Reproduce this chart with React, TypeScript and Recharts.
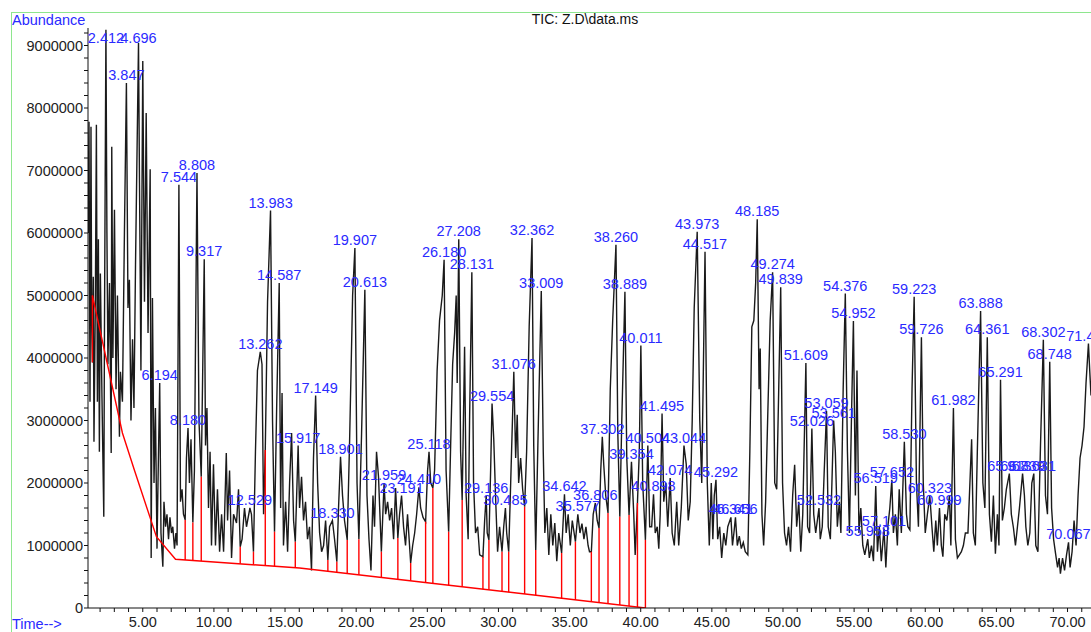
import { ComposedChart, Line, Scatter, XAxis, YAxis, ReferenceLine } from 'recharts'

// TIC trace: retention time (min) and abundance (millions of counts)
const traceTime = [
  1.15, 1.22, 1.29, 1.36, 1.41, 1.46, 1.52, 1.57, 1.67, 1.74, 1.81, 1.88, 1.95, 2.02, 2.13, 2.26, 2.31, 2.41, 2.48, 2.55,
  2.66, 2.78, 2.82, 2.9, 3.01, 3.12, 3.22, 3.36, 3.43, 3.57, 3.71, 3.85, 3.96, 4.06, 4.17, 4.28, 4.38, 4.49, 4.7, 4.77,
  4.87, 5.0, 5.12, 5.24, 5.37, 5.52, 5.59, 5.68, 5.79, 5.89, 6.0, 6.07, 6.19, 6.28, 6.41, 6.49, 6.6, 6.7, 6.81, 6.91,
  7.02, 7.11, 7.23, 7.33, 7.41, 7.54, 7.65, 7.76, 7.86, 7.98, 8.07, 8.18, 8.28, 8.39, 8.52, 8.63, 8.81, 8.95, 9.11, 9.32,
  9.41, 9.51, 9.62, 9.73, 9.83, 9.97, 10.11, 10.25, 10.4, 10.54, 10.68, 10.87, 10.96, 11.1, 11.24, 11.38, 11.59, 11.73, 11.85, 11.98,
  12.15, 12.29, 12.53, 12.64, 12.78, 12.92, 13.06, 13.26, 13.38, 13.49, 13.61, 13.77, 13.98, 14.12, 14.26, 14.41, 14.59, 14.69, 14.79, 14.89,
  15.04, 15.18, 15.32, 15.46, 15.6, 15.72, 15.92, 16.02, 16.16, 16.3, 16.44, 16.58, 16.72, 16.86, 17.0, 17.15, 17.29, 17.43, 17.57, 17.71,
  17.85, 18.01, 18.13, 18.33, 18.48, 18.64, 18.76, 18.9, 19.04, 19.18, 19.37, 19.54, 19.75, 19.91, 20.06, 20.19, 20.38, 20.61, 20.76, 20.9,
  21.04, 21.18, 21.29, 21.43, 21.57, 21.77, 21.96, 22.07, 22.21, 22.35, 22.49, 22.63, 22.77, 22.93, 23.05, 23.19, 23.33, 23.47, 23.61, 23.83,
  23.97, 24.11, 24.25, 24.41, 24.53, 24.7, 24.88, 25.02, 25.12, 25.24, 25.39, 25.51, 25.69, 25.86, 26.05, 26.18, 26.32, 26.5, 26.64, 26.78,
  26.92, 27.03, 27.1, 27.21, 27.34, 27.45, 27.62, 27.73, 27.87, 27.97, 28.13, 28.25, 28.39, 28.54, 28.68, 28.91, 29.03, 29.14, 29.21, 29.33,
  29.45, 29.55, 29.67, 29.81, 29.94, 30.08, 30.25, 30.37, 30.49, 30.58, 30.72, 30.86, 31.08, 31.21, 31.32, 31.42, 31.56, 31.7, 31.84, 31.98,
  32.16, 32.36, 32.48, 32.62, 32.77, 33.01, 33.15, 33.26, 33.4, 33.54, 33.68, 33.82, 33.96, 34.1, 34.24, 34.44, 34.64, 34.76, 34.9, 35.05,
  35.19, 35.41, 35.58, 35.73, 35.87, 36.01, 36.15, 36.3, 36.4, 36.53, 36.66, 36.81, 36.94, 37.07, 37.19, 37.3, 37.4, 37.54, 37.7, 37.86,
  38.03, 38.26, 38.39, 38.53, 38.67, 38.89, 39.02, 39.18, 39.35, 39.51, 39.61, 39.77, 39.9, 40.01, 40.14, 40.33, 40.5, 40.63, 40.77, 40.9,
  41.02, 41.16, 41.27, 41.37, 41.5, 41.62, 41.76, 41.9, 42.07, 42.21, 42.36, 42.53, 42.67, 42.85, 43.04, 43.2, 43.34, 43.48, 43.62, 43.76,
  43.97, 44.15, 44.29, 44.52, 44.68, 44.82, 44.96, 45.07, 45.17, 45.29, 45.41, 45.55, 45.69, 45.84, 45.98, 46.12, 46.34, 46.45, 46.55, 46.66,
  46.79, 46.93, 47.07, 47.21, 47.35, 47.53, 47.67, 47.81, 47.95, 48.08, 48.19, 48.32, 48.4, 48.52, 48.64, 48.78, 48.92, 49.1, 49.27, 49.42,
  49.56, 49.7, 49.84, 49.97, 50.11, 50.25, 50.39, 50.53, 50.68, 50.82, 50.96, 51.11, 51.25, 51.39, 51.61, 51.73, 51.87, 52.03, 52.16, 52.3,
  52.53, 52.62, 52.76, 52.9, 53.06, 53.18, 53.33, 53.56, 53.68, 53.82, 53.96, 54.07, 54.23, 54.38, 54.53, 54.67, 54.81, 54.95, 55.09, 55.2,
  55.34, 55.47, 55.61, 55.75, 55.96, 56.07, 56.22, 56.36, 56.52, 56.64, 56.77, 56.91, 57.1, 57.23, 57.37, 57.51, 57.65, 57.76, 57.9, 58.04,
  58.17, 58.32, 58.53, 58.68, 58.78, 58.92, 59.07, 59.22, 59.38, 59.52, 59.73, 59.86, 60.0, 60.15, 60.32, 60.47, 60.6, 60.74, 60.85, 61.0,
  61.13, 61.24, 61.37, 61.52, 61.7, 61.8, 61.98, 62.12, 62.26, 62.4, 62.54, 62.68, 62.82, 63.0, 63.26, 63.38, 63.52, 63.66, 63.89, 64.05,
  64.19, 64.36, 64.51, 64.65, 64.79, 64.93, 65.07, 65.18, 65.29, 65.42, 65.56, 65.7, 65.91, 66.05, 66.2, 66.34, 66.48, 66.62, 66.84, 66.97,
  67.07, 67.21, 67.35, 67.49, 67.63, 67.77, 67.92, 68.1, 68.3, 68.45, 68.59, 68.75, 68.88, 69.02, 69.16, 69.3, 69.41, 69.5, 69.65, 69.79,
  69.93, 70.07, 70.18, 70.32, 70.46, 70.6, 70.74, 70.88, 71.02, 71.16, 71.3, 71.47, 71.56, 71.65,
]
const traceAbund = [
  6.0, 7.78, 3.3, 7.7, 4.5, 3.93, 5.3, 2.66, 5.0, 7.73, 3.3, 5.9, 2.5, 5.35, 3.4, 1.46, 4.6, 9.25, 6.0, 3.9,
  5.2, 2.48, 7.38, 4.0, 6.37, 3.5, 5.0, 2.74, 3.78, 3.3, 6.0, 8.4, 4.8, 5.25, 3.0, 4.3, 3.2, 5.5, 9.04, 6.8,
  3.8, 8.75, 4.9, 7.92, 4.4, 7.02, 0.8, 4.96, 2.0, 3.2, 0.95, 2.0, 3.6, 1.2, 0.66, 1.7, 1.3, 1.5, 1.1, 1.45,
  1.2, 1.3, 0.95, 1.2, 1.0, 6.77, 1.7, 1.9, 1.5, 1.41, 2.4, 2.88, 2.0, 2.7, 1.37, 2.2, 6.96, 3.0, 2.1, 5.58,
  2.6, 3.2, 1.6, 2.5, 1.0, 2.3, 1.0, 1.9, 0.9, 1.5, 0.9, 2.48, 1.4, 2.2, 0.8, 1.5, 1.36, 1.9, 0.98, 1.1,
  1.6, 1.3, 1.6, 1.5, 0.9, 2.5, 3.8, 4.1, 3.9, 1.5, 2.53, 4.9, 6.36, 3.0, 1.22, 3.2, 5.2, 1.6, 3.44, 1.0,
  1.7, 0.9, 2.0, 2.8, 1.4, 1.06, 2.6, 1.6, 2.1, 1.4, 1.7, 1.1, 1.3, 0.6, 2.4, 3.4, 2.0, 1.2, 0.9, 1.0,
  1.4, 0.77, 1.3, 1.4, 1.1, 0.74, 1.6, 2.42, 1.8, 1.4, 1.09, 2.7, 5.0, 5.76, 2.0, 1.1, 2.8, 5.09, 1.8, 1.1,
  0.6, 1.8, 1.3, 2.5, 2.1, 0.9, 2.0, 1.5, 1.7, 1.4, 1.6, 1.1, 1.92, 1.12, 1.5, 1.8, 1.3, 1.0, 1.5, 0.72,
  1.0, 1.2, 1.5, 1.93, 1.6, 1.45, 1.38, 2.2, 2.5, 2.0, 1.92, 2.2, 3.8, 4.6, 5.0, 5.57, 2.2, 1.22, 2.6, 3.9,
  4.4, 5.0, 3.6, 5.9, 2.5, 1.73, 4.18, 1.8, 1.1, 3.0, 5.37, 2.0, 1.2, 1.3, 0.85, 0.82, 1.4, 1.8, 1.2, 1.09,
  2.2, 3.27, 2.7, 1.7, 0.9, 1.3, 0.9, 1.3, 1.6, 1.2, 0.9, 2.0, 3.78, 2.4, 3.09, 2.0, 2.4, 1.9, 1.62, 2.5,
  4.5, 5.92, 2.6, 0.93, 2.6, 5.07, 2.5, 1.2, 1.6, 0.85, 1.5, 1.0, 1.36, 0.75, 1.2, 0.88, 1.82, 1.2, 1.5, 1.0,
  1.4, 1.06, 1.5, 1.2, 1.35, 1.1, 1.3, 1.0, 0.9, 0.9, 1.5, 1.68, 1.4, 1.28, 2.2, 2.74, 2.3, 1.8, 1.52, 3.5,
  4.6, 5.81, 2.8, 1.46, 3.0, 5.06, 2.4, 1.49, 2.34, 1.5, 0.85, 1.68, 2.5, 4.2, 2.0, 1.09, 2.6, 1.3, 1.3, 1.82,
  1.2, 1.3, 0.95, 1.5, 3.11, 1.7, 2.0, 1.3, 2.08, 1.2, 1.0, 1.7, 1.0, 1.6, 2.6, 2.3, 1.4, 1.7, 3.0, 4.8,
  6.02, 3.0, 2.0, 5.7, 2.0, 1.0, 2.0, 1.1, 1.8, 2.05, 1.1, 1.3, 0.8, 1.2, 1.0, 1.3, 1.45, 1.0, 1.2, 1.45,
  1.0, 1.15, 0.95, 1.05, 0.9, 0.85, 2.5, 4.5, 4.6, 5.2, 6.22, 3.5, 4.15, 1.5, 1.0, 1.7, 3.0, 4.6, 5.37, 2.0,
  1.9, 3.5, 5.13, 2.0, 1.2, 1.0, 1.3, 0.9, 1.8, 2.29, 1.3, 1.7, 0.9, 1.5, 3.92, 1.3, 1.2, 2.87, 1.5, 1.2,
  1.6, 1.1, 1.3, 2.2, 3.15, 1.3, 1.1, 3.0, 2.5, 1.3, 1.7, 1.2, 3.5, 5.03, 2.5, 1.2, 3.0, 4.59, 1.8, 3.8,
  1.2, 1.6, 1.0, 0.85, 1.1, 0.8, 1.0, 0.75, 1.95, 0.9, 1.3, 0.75, 1.27, 0.65, 1.3, 1.6, 2.05, 1.2, 1.5, 1.0,
  1.9, 1.2, 2.66, 1.5, 1.3, 1.25, 3.5, 4.98, 2.0, 1.3, 4.33, 2.0, 1.2, 1.5, 1.8, 1.3, 0.9, 1.4, 1.0, 1.6,
  1.0, 0.82, 1.5, 1.4, 1.8, 1.0, 3.2, 1.1, 0.8, 0.85, 0.9, 1.0, 1.2, 1.2, 2.7, 1.2, 1.0, 2.5, 4.75, 2.0,
  1.6, 4.33, 1.5, 1.06, 1.8, 0.87, 1.5, 1.0, 3.65, 1.4, 1.6, 1.9, 2.15, 1.5, 1.28, 1.0, 1.3, 1.6, 2.15, 1.8,
  1.3, 1.0, 1.2, 2.0, 2.15, 1.0, 0.9, 2.6, 4.29, 1.8, 1.5, 3.94, 1.6, 1.1, 0.87, 0.65, 0.8, 0.55, 0.8, 0.6,
  0.85, 1.05, 0.65, 0.9, 1.4, 1.0, 1.8, 2.4, 2.6, 2.9, 3.6, 4.23, 3.8, 3.4,
]

// integration baseline (red) vertices
const baseTime = [1.46, 3.57, 4.42, 5.96, 7.3, 16.02, 25.15, 34.3, 40.33]
const baseAbund = [5.0, 2.8, 2.2, 1.14, 0.78, 0.64, 0.4, 0.16, 0.0]

// peak start/end markers dropped from the baseline to the signal
const dropTimes = [
  1.46, 7.98, 8.52, 9.11, 11.85, 12.78, 13.61, 14.26, 15.72, 18.01, 18.64, 19.37, 20.19, 21.77, 22.93, 23.83, 24.88, 25.39,
  26.5, 27.45, 28.91, 29.33, 30.25, 30.72, 31.84, 32.62, 34.44, 35.41, 36.53, 37.07, 37.7, 38.53, 39.18, 39.77, 40.33,
]

// retention time labels printed over the peaks
const peakLabels = [
  '2.412', '3.847', '4.696', '6.194', '7.544', '8.180', '8.808', '9.317', '12.529', '13.262', '13.983', '14.587',
  '15.917', '17.149', '18.330', '18.901', '19.907', '20.613', '21.959', '23.191', '24.410', '25.118', '26.180',
  '27.208', '28.131', '29.136', '29.554', '30.485', '31.076', '32.362', '33.009', '34.642', '35.577', '36.806',
  '37.302', '38.260', '38.889', '39.354', '40.011', '40.504', '40.898', '41.495', '42.074', '43.044', '43.973',
  '44.517', '45.292', '46.341', '46.656', '48.185', '49.274', '49.839', '51.609', '52.026', '52.532', '53.059',
  '53.561', '54.376', '54.952', '55.958', '56.519', '57.101', '57.652', '58.530', '59.223', '59.726', '60.323',
  '60.999', '61.982', '63.888', '64.361', '65.291', '65.913', '66.839', '67.631', '68.302', '68.748', '70.067',
  '71.468',
]

const xTickValues = Array.from({ length: 70 }, (_, i) => i + 2)
const yTickSteps = Array.from({ length: 47 }, (_, i) => i)

const FONT = "'Liberation Sans', Arial, sans-serif"
const BLUE = '#2a2aff'

function interp(ts: number[], vs: number[], t: number) {
  if (t <= ts[0]) return vs[0]
  for (let i = 1; i < ts.length; i++) {
    if (t <= ts[i]) {
      const f = (t - ts[i - 1]) / (ts[i] - ts[i - 1])
      return vs[i - 1] + f * (vs[i] - vs[i - 1])
    }
  }
  return vs[vs.length - 1]
}

const trace = traceTime.map((t, i) => ({ t, v: traceAbund[i] }))
const baseline = baseTime.map((t, i) => ({ t, v: baseAbund[i] }))
const drops = dropTimes.map((t) => ({
  t,
  lo: interp(baseTime, baseAbund, t),
  hi: interp(traceTime, traceAbund, t),
}))
const labels = peakLabels.map((text) => {
  const t = parseFloat(text)
  let apex = 0
  trace.forEach((p) => {
    if (Math.abs(p.t - t) <= 0.08 && p.v > apex) apex = p.v
  })
  // keep the text of the tallest peaks inside the frame
  return { t, v: Math.min(apex, 9.0), text }
})

const PeakLabel = (props: any) => {
  const { cx, cy, payload } = props
  return (
    <text x={cx} y={cy - 3} textAnchor="middle" fill={BLUE} fontSize={14.5} fontFamily={FONT}>
      {payload.text}
    </text>
  )
}

export default function App() {
  return (
    <div
      style={{
        position: 'absolute',
        left: 0,
        top: 0,
        width: 1091,
        height: 632,
        background: '#fff',
        overflow: 'hidden',
      }}
    >
      <div
        style={{
          position: 'absolute',
          left: 11,
          top: 12,
          width: 1200,
          height: 700,
          border: '1px solid #8ee68e',
        }}
      />
      <svg width={1091} height={632} style={{ position: 'absolute', left: 0, top: 0 }}>
        <text x={12} y={25} fill={BLUE} fontSize={14.5} fontFamily={FONT}>
          Abundance
        </text>
        <text x={585} y={24} fill="#111" fontSize={14} fontFamily={FONT} textAnchor="middle">
          TIC: Z.D\data.ms
        </text>
        <text x={12} y={629} fill={BLUE} fontSize={14.5} fontFamily={FONT}>
          Time--&gt;
        </text>
      </svg>
      <div style={{ position: 'absolute', left: 0, top: 0 }}>
        <ComposedChart width={1091} height={632} margin={{ top: 28, right: 0, bottom: 0, left: 0 }}>
          <XAxis
            type="number"
            dataKey="t"
            domain={[1.15, 71.65]}
            allowDataOverflow
            ticks={xTickValues}
            interval={0}
            tickFormatter={(v: number) => (v % 5 === 0 ? v.toFixed(2) : '')}
            height={24}
            tickSize={4}
            tickMargin={5}
            stroke="#111"
            tick={{ fill: '#222', fontSize: 14.5, fontFamily: FONT }}
          />
          <YAxis
            type="number"
            domain={[0, 9.28]}
            allowDataOverflow
            ticks={yTickSteps.map((i) => i / 5)}
            interval={0}
            tickFormatter={(v: number) => {
              const step = Math.round(v * 5)
              return step % 5 === 0 ? String((step / 5) * 1000000) : ''
            }}
            width={88}
            tickSize={4}
            tickMargin={1}
            stroke="#111"
            tick={{ fill: '#222', fontSize: 14.5, fontFamily: FONT }}
          />
          <Line
            data={trace}
            dataKey="v"
            stroke="#1a1a1a"
            strokeWidth={1.4}
            dot={false}
            activeDot={false}
            isAnimationActive={false}
          />
          <Line
            data={baseline}
            dataKey="v"
            stroke="#ff0000"
            strokeWidth={1.4}
            dot={false}
            activeDot={false}
            isAnimationActive={false}
          />
          {drops.map((d, i) => (
            <ReferenceLine
              key={i}
              segment={[
                { x: d.t, y: d.lo },
                { x: d.t, y: d.hi },
              ]}
              stroke="#ff0000"
              strokeWidth={1.4}
            />
          ))}
          <Scatter data={labels} dataKey="v" shape={PeakLabel} isAnimationActive={false} />
        </ComposedChart>
      </div>
    </div>
  )
}
